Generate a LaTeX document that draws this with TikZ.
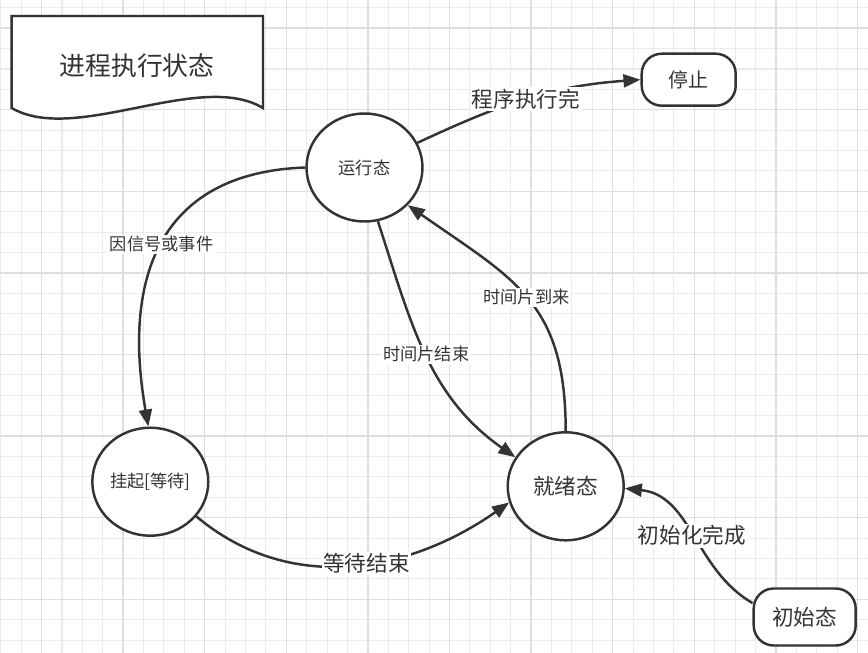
\documentclass[tikz,border=0pt]{standalone}
\usepackage{fontspec}
\setmainfont{Noto Sans CJK SC}
\usetikzlibrary{arrows.meta,shapes.geometric}
\definecolor{ink}{HTML}{333333}
\definecolor{gridminor}{HTML}{EBEBEB}
\definecolor{gridmajor}{HTML}{DEDEDE}

\begin{document}
\begin{tikzpicture}[x=0.02cm, y=0.02cm,
  state/.style={ellipse, draw=ink, line width=1.4pt, fill=white, text=ink, minimum width=2.32cm, minimum height=2.16cm, inner sep=0pt},
  term/.style={rectangle, rounded corners=0.4cm, draw=ink, line width=1.4pt, fill=white, text=ink},
  trans/.style={draw=ink, line width=1.4pt, -{Triangle[length=0.34cm, width=0.26cm]}},
  lbl/.style={fill=white, text=ink, inner sep=1pt},
  small/.style={font=\fontsize{9.8}{11}\selectfont},
  big/.style={font=\fontsize{12.3}{14}\selectfont}]
\useasboundingbox (0, 0) rectangle (868, -652);
\clip (0, 0) rectangle (868, -652);
\fill[white] (0, 0) rectangle (868, -652);
\draw[gridminor, line width=0.6pt, shift={(0.8, -7.8)}] (-20.4, 20.4) grid[step=0.408cm] (880, -680);
\draw[gridmajor, line width=0.8pt, shift={(41.6, -28.2)}] (-81.6, 81.6) grid[step=1.632cm] (900, -700);

\draw[ink, line width=1.4pt, fill=white] (11.7, -16) -- (263, -16) -- (263, -108) .. controls (200, -70) and (75, -145) .. (11.7, -108) -- cycle;
\node[text=ink, font=\fontsize{14.7}{17}\selectfont] (title) at (137, -66) {进程执行状态};

\node[state, small] (run) at (364.5, -167.5) {运行态};
\node[state, small] (hang) at (150.3, -481.7) {挂起[等待]};
\node[state, big] (ready) at (565.7, -486.3) {就绪态};
\node[term, minimum width=1.88cm, minimum height=1.04cm, font=\fontsize{11.3}{13}\selectfont] (stop) at (688.7, -79.7) {停止};
\node[term, big, minimum width=2.04cm, minimum height=1.14cm] (init) at (804.7, -617) {初始态};

\draw[trans] (run.25) to[out=25, in=184] node[lbl, big] {程序执行完} (stop.west);
\draw[trans] (run.180) to[out=182, in=100, looseness=1.25] node[lbl, small] {因信号或事件} (hang.92);
\draw[trans] (run.-76) to[out=-72, in=145] node[lbl, small] {时间片结束} (ready.150);
\draw[trans] (ready.90) to[out=90, in=-35, looseness=1.2] node[lbl, small] {时间片到来} (run.-41);
\draw[trans] (hang.-37) to[out=-40, in=215] node[lbl, big, pos=0.55] {等待结束} (ready.196);
\draw[trans] (init.165) to[out=150, in=-6] node[lbl, big] {初始化完成} (ready.-2);
\end{tikzpicture}
\end{document}
